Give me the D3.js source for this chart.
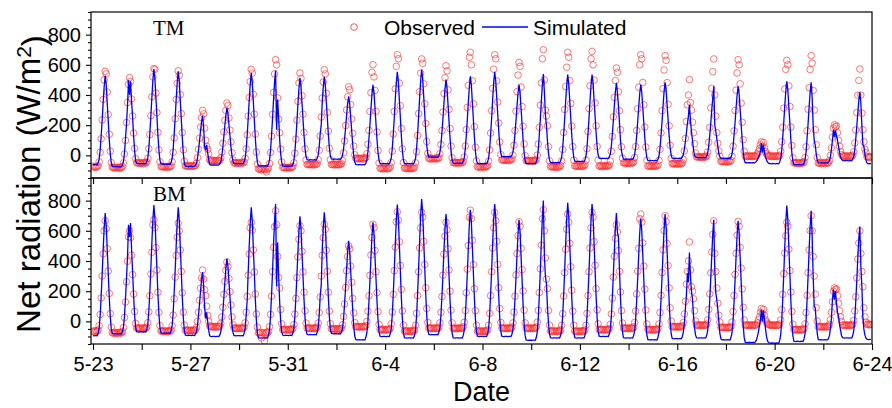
<!DOCTYPE html>
<html>
<head>
<meta charset="utf-8">
<script src="https://cdn.jsdelivr.net/npm/d3@7"></script>
<style>
  body { margin: 0; background: #fff; }
  svg { display: block; }
  text { font-family: Arial, "Liberation Sans", sans-serif; fill: #000; }
</style>
</head>
<body>
<svg id="chart" width="892" height="408"></svg>
<script>
const startDate = new Date(2014, 4, 23);
const endDate = new Date(2014, 5, 24);
const yTicks = [0, 200, 400, 600, 800];
const legendItems = ["Observed", "Simulated"];

// hourly values (W/m2), one row per day from 5-23, hours 0..23
const tmObserved = [
  [-72,-78,-75,-80,-74,-69,-43,20,110,235,370,500,557,540,420,270,140,28,-48,-78,-82,-79,-84,-80],
  [-82,-78,-85,-79,-83,-74,-50,9,99,218,350,470,515,490,374,261,148,46,-22,-50,-47,-53,-49,-52],
  [-52,-48,-55,-47,-50,-44,-19,44,138,263,388,520,575,570,413,283,153,36,-43,-75,-72,-78,-74,-77],
  [-74,-78,-72,-77,-75,-69,-43,20,116,243,370,477,560,530,403,277,151,37,-39,-70,-68,-73,-71,-69],
  [-68,-73,-70,-72,-69,-66,-52,-15,40,114,188,250,298,275,180,100,60,40,10,-30,-35,-38,-33,-36],
  [-36,-33,-38,-34,-35,-31,-16,22,80,156,232,297,347,330,248,168,89,17,-30,-50,-48,-53,-49,-51],
  [-52,-48,-55,-47,-50,-44,-19,43,136,260,384,489,570,545,405,273,141,22,-57,-90,-92,-86,-95,-90],
  [-88,-95,-90,-110,-92,-83,-54,19,127,272,417,540,634,600,380,240,150,41,-44,-80,-78,-84,-79,-82],
  [-82,-78,-84,-79,-80,-74,-49,14,108,233,358,480,546,510,395,273,152,43,-30,-60,-58,-63,-59,-61],
  [-62,-58,-64,-57,-60,-54,-29,34,128,254,380,486,568,540,411,285,160,47,-29,-60,-62,-57,-63,-59],
  [-62,-58,-63,-57,-61,-55,-34,17,95,198,301,388,455,435,336,241,146,61,4,-20,-18,-24,-19,-22],
  [-22,-18,-25,-17,-21,-14,11,73,166,291,415,550,601,520,430,292,155,32,-51,-85,-88,-82,-90,-86],
  [-87,-83,-90,-84,-86,-77,-47,28,141,291,441,590,667,640,479,329,178,43,-47,-85,-82,-88,-84,-87],
  [-87,-83,-90,-84,-86,-78,-49,24,132,277,422,545,639,610,474,342,211,92,13,-20,-18,-25,-19,-22],
  [-22,-18,-25,-17,-21,-14,11,72,164,287,410,514,594,560,434,305,177,61,-16,-48,-45,-52,-47,-50],
  [-50,-46,-52,-45,-49,-41,-11,62,171,318,464,650,683,600,494,342,190,54,-37,-75,-78,-72,-80,-76],
  [-77,-73,-80,-72,-76,-68,-38,36,148,296,444,571,667,640,493,353,214,88,5,-30,-28,-34,-29,-32],
  [-32,-28,-35,-27,-31,-24,2,67,164,293,422,532,616,590,453,323,193,76,-2,-35,-33,-38,-34,-36],
  [-37,-33,-38,-34,-35,-28,2,75,186,333,480,640,700,500,300,260,196,57,-36,-75,-72,-78,-74,-77],
  [-77,-73,-80,-72,-76,-67,-37,39,152,304,456,584,683,650,495,344,194,58,-32,-70,-68,-73,-69,-72],
  [-72,-68,-74,-67,-71,-62,-32,44,158,310,461,640,689,600,499,347,196,59,-32,-70,-73,-67,-75,-71],
  [-72,-68,-74,-67,-71,-64,-38,27,125,255,384,495,579,550,422,296,170,57,-19,-50,-48,-55,-47,-52],
  [-52,-48,-55,-47,-50,-43,-14,58,165,309,452,600,667,640,483,335,188,55,-33,-70,-72,-67,-74,-70],
  [-72,-68,-74,-67,-71,-63,-33,40,149,296,442,566,661,630,482,339,196,67,-19,-55,-53,-58,-52,-56],
  [-57,-53,-58,-52,-56,-49,-27,29,112,224,335,400,502,350,300,220,150,77,16,-10,-8,-13,-9,-12],
  [-12,-8,-14,-7,-11,-4,22,87,185,315,444,555,639,400,260,150,80,30,-6,-40,-38,-43,-39,-41],
  [-42,-38,-44,-37,-41,-33,-6,61,162,297,432,546,634,600,474,346,219,104,27,-5,-3,-8,-4,-6],
  [-7,-3,-8,-4,-6,-5,0,10,25,45,70,90,60,85,50,25,10,0,-5,-5,-3,-8,-4,-6],
  [-7,-3,-8,-4,-6,1,27,90,186,313,440,570,630,600,460,324,188,66,-16,-50,-48,-53,-47,-52],
  [-52,-48,-54,-47,-51,-43,-14,57,163,306,448,569,661,611,430,300,170,71,-14,-50,-52,-47,-54,-50],
  [-52,-48,-54,-47,-51,-48,-35,0,50,120,180,203,190,195,150,100,60,25,5,-5,-3,-8,-4,-6],
  [-7,-3,-8,-4,-6,1,24,82,168,284,399,497,572,400,280,170,90,40,19,-10,-8,-13,-9,-12]
];

const tmSimulated = [
  [-60,-63,-61,-62,-64,-50,-27,32,127,233,351,457,528,468,347,227,106,9,-51,-72,-74,-76,-75,-75],
  [-74,-76,-75,-77,-75,-64,-41,17,108,211,330,497,400,490,360,250,130,30,-35,-52,-55,-54,-56,-55],
  [-55,-56,-54,-55,-56,-42,-17,45,146,259,384,497,572,509,383,257,131,30,-33,-56,-58,-57,-59,-58],
  [-58,-59,-57,-58,-60,-46,-21,40,139,250,373,483,557,494,368,242,116,15,-48,-70,-73,-72,-74,-73],
  [-73,-72,-74,-73,-72,-66,-53,-19,35,95,162,223,263,190,60,40,70,20,-30,-60,-64,-63,-65,-64],
  [-64,-63,-65,-64,-63,-56,-41,-4,57,125,201,269,314,277,203,130,56,-3,-40,-54,-55,-56,-54,-55],
  [-55,-56,-54,-55,-56,-43,-19,41,137,246,366,474,546,484,361,238,115,16,-45,-68,-70,-71,-69,-70],
  [-70,-71,-69,-70,-72,-57,-32,31,133,247,373,487,563,170,370,250,104,10,-45,-70,-72,-73,-71,-72],
  [-72,-71,-73,-72,-71,-60,-37,22,115,221,338,443,513,459,350,242,133,46,-8,-28,-30,-31,-29,-30],
  [-30,-31,-29,-30,-31,-19,3,58,146,200,355,454,520,466,357,248,139,51,-3,-24,-25,-26,-24,-25],
  [-25,-26,-24,-25,-26,-17,0,42,108,183,266,341,391,346,255,165,74,1,-44,-60,-62,-63,-61,-62],
  [-62,-63,-61,-62,-63,-51,-30,23,108,203,309,404,468,416,311,207,102,18,-34,-53,-55,-56,-54,-55],
  [-55,-56,-54,-55,-56,-43,-19,42,140,249,371,480,553,492,371,249,127,30,-31,-54,-55,-56,-54,-55],
  [-55,-56,-54,-55,-56,-43,-18,45,144,257,381,493,568,510,394,279,163,70,12,-10,-11,-12,-10,-11],
  [-11,-12,-10,-11,-12,-1,20,71,153,246,348,440,502,447,336,225,114,26,-30,-50,-52,-53,-51,-52],
  [-52,-53,-51,-52,-53,-40,-17,40,132,236,351,455,524,466,350,235,119,26,-32,-54,-55,-56,-54,-55],
  [-55,-56,-54,-55,-56,-43,-19,42,140,249,371,480,553,497,385,273,160,71,14,-7,-8,-9,-7,-8],
  [-8,-9,-7,-8,-9,2,21,68,144,230,325,411,468,416,311,207,102,18,-34,-53,-55,-56,-54,-55],
  [-55,-56,-54,-55,-56,-43,-19,40,135,242,361,468,539,420,270,200,100,15,-30,-47,-48,-49,-47,-48],
  [-48,-49,-47,-48,-49,-36,-13,45,139,244,360,465,535,478,363,248,133,41,-17,-39,-40,-41,-39,-40],
  [-40,-41,-39,-40,-41,-29,-6,52,144,248,363,466,535,480,369,258,147,58,2,-19,-20,-21,-19,-20],
  [-20,-21,-19,-20,-21,-10,10,60,140,230,330,420,480,420,330,220,100,30,-5,-24,-25,-26,-24,-25],
  [-25,-26,-24,-25,-26,-15,5,54,133,222,320,409,468,418,317,217,116,35,-15,-34,-35,-36,-34,-35],
  [-35,-36,-34,-35,-36,-25,-4,48,131,225,328,422,484,434,333,232,131,51,0,-19,-20,-21,-19,-20],
  [-20,-21,-19,-20,-21,-10,5,40,90,150,210,260,336,230,160,100,40,0,-10,-14,-15,-16,-14,-15],
  [-15,-16,-14,-15,-16,-5,15,60,130,210,300,380,457,200,160,110,60,10,-10,-19,-20,-21,-19,-20],
  [-20,-21,-19,-20,-21,-10,9,56,133,219,314,400,457,406,305,204,103,22,-29,-48,-49,-50,-48,-49],
  [-49,-50,-48,-49,-50,-45,-40,-30,-15,0,30,82,20,70,20,-10,-30,-45,-52,-54,-55,-56,-54,-55],
  [-55,-56,-54,-55,-56,-44,-22,32,119,218,327,425,490,435,324,214,104,15,-40,-60,-62,-63,-61,-62],
  [-62,-63,-61,-62,-63,-51,-29,25,113,211,320,418,484,380,200,100,70,10,-30,-48,-50,-51,-49,-50],
  [-50,-51,-49,-50,-51,-45,-35,-10,40,100,170,120,165,130,100,60,20,-10,-25,-34,-35,-36,-34,-35],
  [-35,-36,-34,-35,-36,-26,-8,37,110,191,281,363,417,350,200,70,60,10,-30,-50,-55,-56,-54,-55]
];

const bmObserved = [
  [-67,-63,-70,-62,-66,-58,-28,45,155,301,447,600,667,615,482,333,185,51,-38,-75,-78,-72,-80,-76],
  [-77,-73,-80,-72,-76,-68,-41,26,128,263,398,560,600,555,439,310,181,65,-13,-45,-43,-48,-44,-47],
  [-47,-43,-48,-44,-46,-38,-9,63,170,314,458,640,673,621,489,341,193,60,-28,-65,-63,-68,-62,-66],
  [-67,-63,-68,-62,-66,-58,-29,42,150,293,436,557,650,600,473,331,189,61,-25,-60,-58,-63,-57,-61],
  [-62,-58,-63,-57,-61,-56,-40,0,60,140,220,288,340,280,210,170,100,40,0,-30,-33,-38,-34,-36],
  [-37,-33,-38,-34,-36,-31,-14,29,93,179,265,337,393,362,284,196,108,29,-23,-45,-43,-48,-44,-47],
  [-47,-43,-48,-44,-46,-38,-10,60,165,306,446,620,656,605,473,327,181,49,-38,-75,-78,-72,-110,-76],
  [-77,-130,-80,-72,-76,-67,-35,46,167,329,491,628,733,640,430,290,221,79,-16,-55,-53,-58,-52,-56],
  [-57,-53,-58,-52,-56,-48,-21,48,152,290,427,544,634,600,464,328,193,70,-11,-45,-43,-48,-44,-47],
  [-47,-43,-48,-44,-46,-38,-11,58,162,300,437,554,644,610,471,332,193,68,-15,-50,-48,-53,-49,-51],
  [-52,-48,-53,-47,-51,-45,-23,33,115,225,335,429,500,480,366,259,152,56,-8,-35,-33,-38,-34,-36],
  [-37,-33,-38,-34,-36,-28,-1,67,169,305,440,556,644,620,469,329,190,64,-20,-55,-53,-58,-52,-56],
  [-57,-53,-58,-52,-56,-47,-16,62,179,336,492,660,726,671,528,370,212,69,-25,-65,-63,-68,-62,-66],
  [-67,-63,-68,-62,-66,-57,-26,53,171,329,486,620,722,690,530,377,223,85,-7,-45,-43,-48,-44,-47],
  [-47,-43,-48,-44,-46,-38,-10,60,165,306,446,565,656,607,481,341,200,74,-10,-45,-48,-43,-49,-46],
  [-47,-43,-48,-44,-46,-37,-6,72,190,346,502,690,737,681,537,376,216,71,-25,-65,-63,-68,-62,-66],
  [-67,-63,-68,-62,-66,-57,-26,53,171,329,486,620,722,668,530,377,223,85,-7,-45,-43,-48,-44,-47],
  [-47,-43,-48,-44,-46,-38,-10,61,167,308,449,568,660,630,484,343,201,75,-10,-45,-43,-48,-44,-47],
  [-47,-43,-48,-44,-46,-37,-6,73,191,348,505,680,740,600,420,280,217,72,-25,-65,-63,-68,-62,-66],
  [-67,-63,-68,-62,-66,-57,-26,51,168,323,478,610,711,657,517,362,206,67,-26,-65,-68,-63,-69,-66],
  [-67,-63,-68,-62,-66,-57,-26,53,171,329,486,620,722,690,528,372,217,77,-16,-55,-53,-58,-52,-56],
  [-57,-53,-58,-52,-56,-48,-20,49,154,293,432,550,640,592,469,332,195,71,-11,-45,-43,-48,-44,-47],
  [-47,-43,-48,-44,-46,-37,-7,68,182,333,484,680,711,657,520,366,213,75,-17,-55,-53,-58,-52,-56],
  [-57,-53,-58,-52,-56,-47,-17,58,172,323,474,602,700,660,516,369,222,90,2,-35,-33,-38,-34,-36],
  [-37,-33,-38,-34,-36,-29,-7,49,133,246,330,400,526,340,230,200,150,70,3,-25,-23,-28,-24,-26],
  [-27,-23,-28,-24,-26,-18,10,79,182,321,459,576,666,450,330,220,120,40,-5,-40,-38,-43,-39,-41],
  [-42,-38,-43,-39,-41,-33,-5,65,171,311,451,571,662,630,490,353,215,92,9,-25,-23,-28,-24,-26],
  [-27,-23,-28,-24,-26,-25,-20,-10,10,30,60,85,50,80,40,10,-5,-15,-20,-25,-23,-28,-24,-26],
  [-27,-23,-28,-24,-26,-18,9,77,179,316,452,567,656,630,478,336,194,66,-19,-55,-53,-58,-52,-56],
  [-57,-53,-58,-52,-56,-47,-17,58,172,323,474,602,700,600,430,300,180,90,2,-35,-33,-38,-34,-36],
  [-37,-33,-38,-34,-36,-33,-20,10,60,130,200,222,210,215,170,120,70,30,0,-25,-23,-28,-24,-26],
  [-27,-23,-28,-24,-26,-19,6,69,163,288,413,519,600,450,330,230,90,30,-5,-20,-18,-23,-19,-21]
];

const bmSimulated = [
  [-95,-96,-94,-95,-96,-79,-46,35,165,312,474,620,718,638,478,318,158,30,-50,-80,-82,-83,-81,-82],
  [-82,-83,-81,-82,-83,-67,-38,35,153,285,430,640,560,651,480,330,170,40,-40,-68,-70,-71,-69,-70],
  [-70,-71,-69,-70,-71,-53,-20,65,199,351,519,670,771,686,516,347,177,41,-44,-76,-78,-79,-77,-78],
  [-78,-79,-77,-78,-79,-61,-28,55,189,339,506,656,756,671,501,332,162,26,-59,-91,-93,-94,-92,-93],
  [-93,-94,-92,-93,-94,-85,-68,-26,41,117,201,277,327,240,100,20,60,0,-60,-95,-100,-101,-99,-100],
  [-100,-101,-99,-100,-101,-90,-69,-17,65,158,261,354,416,365,263,161,58,-23,-75,-94,-95,-96,-94,-95],
  [-95,-96,-94,-95,-96,-78,-44,41,140,331,501,654,756,669,496,323,150,11,-75,-108,-110,-111,-109,-110],
  [-110,-111,-109,-110,-111,-92,-57,32,174,334,512,671,778,233,523,300,130,0,-70,-91,-93,-94,-92,-93],
  [-93,-94,-92,-93,-94,-77,-46,33,159,302,459,601,696,618,461,304,147,22,-57,-86,-88,-89,-87,-88],
  [-88,-89,-87,-88,-89,-72,-39,42,171,240,479,625,722,642,481,320,159,31,-50,-80,-82,-83,-81,-82],
  [-82,-83,-81,-82,-83,-70,-45,16,115,226,349,459,533,468,337,206,75,-30,-96,-120,-122,-123,-121,-122],
  [-122,-123,-121,-122,-123,-106,-75,2,127,267,423,563,656,580,429,278,127,6,-70,-98,-100,-101,-99,-100],
  [-100,-101,-99,-100,-101,-83,-48,40,180,337,512,669,774,686,509,332,155,14,-75,-108,-110,-111,-109,-110],
  [-110,-111,-109,-110,-111,-92,-55,37,185,351,535,700,811,721,541,362,182,38,-52,-86,-88,-89,-87,-88],
  [-88,-89,-87,-88,-89,-72,-40,40,168,312,471,615,711,629,465,301,136,5,-77,-108,-110,-111,-109,-110],
  [-110,-111,-109,-110,-111,-93,-59,26,162,315,485,638,740,656,488,320,152,18,-66,-98,-100,-101,-99,-100],
  [-100,-101,-99,-100,-101,-82,-47,40,181,339,515,673,778,690,515,339,163,23,-65,-98,-100,-101,-99,-100],
  [-100,-101,-99,-100,-101,-85,-54,24,147,287,441,580,673,593,434,274,114,-13,-93,-123,-125,-126,-124,-125],
  [-125,-126,-124,-125,-126,-107,-70,23,171,338,523,689,800,433,300,250,100,-10,-80,-108,-110,-111,-109,-110],
  [-110,-111,-109,-110,-111,-92,-56,33,176,338,517,678,785,696,517,338,159,15,-74,-108,-110,-111,-109,-110],
  [-110,-111,-109,-110,-111,-92,-57,32,174,334,512,671,778,690,515,339,163,23,-65,-98,-100,-101,-99,-100],
  [-100,-101,-99,-100,-101,-84,-51,31,162,309,473,620,718,590,560,350,160,20,-70,-108,-110,-111,-109,-110],
  [-110,-111,-109,-110,-111,-94,-62,17,143,286,444,587,682,602,441,280,119,-9,-90,-120,-122,-123,-121,-122],
  [-122,-123,-121,-122,-123,-105,-72,11,145,295,461,611,711,628,463,298,133,1,-82,-113,-115,-116,-114,-115],
  [-115,-116,-114,-115,-116,-100,-70,-10,80,170,320,260,456,300,200,150,40,-40,-90,-108,-110,-111,-109,-110],
  [-110,-111,-109,-110,-111,-94,-62,15,140,280,430,580,673,344,189,144,78,0,-80,-115,-122,-123,-121,-122],
  [-122,-123,-121,-122,-123,-106,-75,4,130,272,430,572,667,586,425,264,102,-27,-108,-138,-140,-141,-139,-140],
  [-140,-141,-139,-140,-141,-135,-125,-100,-70,-30,10,78,0,72,10,-50,-100,-130,-140,-143,-144,-145,-143,-144],
  [-144,-145,-143,-144,-145,-126,-89,2,148,312,494,658,767,677,497,317,137,-7,-97,-131,-133,-134,-132,-133],
  [-133,-134,-132,-133,-134,-116,-81,6,144,300,473,629,733,560,300,100,90,0,-80,-120,-122,-123,-121,-122],
  [-122,-123,-121,-122,-123,-115,-95,-50,20,144,211,144,200,122,60,33,-20,-60,-95,-108,-110,-111,-109,-110],
  [-110,-111,-109,-110,-111,-94,-63,13,135,270,420,550,629,367,233,33,-53,-90,-110,-118,-120,-121,-119,-120]
];

const panels = [
  { name: "TM", observed: tmObserved, simulated: tmSimulated, top: 12, bottom: 178, labelled: false },
  { name: "BM", observed: bmObserved, simulated: bmSimulated, top: 178, bottom: 344, labelled: true }
];

const hourly = rows => rows.flatMap((row, d) =>
  row.map((v, h) => ({ t: d3.timeHour.offset(startDate, d * 24 + h), v })));

const svg = d3.select("#chart");
const left = 91, right = 872;

const x = d3.scaleTime()
  .domain([d3.timeHour.offset(startDate, -2), endDate])
  .range([left, right]);

const xTickDates = d3.timeDay.range(startDate, d3.timeDay.offset(endDate, 1), 2);
const fmt = d3.timeFormat("%-m-%-d");
const minorY = d3.range(-150, 951, 50).filter(v => !yTicks.includes(v));

panels.forEach((p, i) => {
  const y = d3.scaleLinear().domain([-150, 950]).range([p.bottom, p.top]);
  const g = svg.append("g");

  g.append("clipPath").attr("id", "clip" + i)
    .append("rect")
    .attr("x", left).attr("y", p.top)
    .attr("width", right - left).attr("height", p.bottom - p.top);

  const plot = g.append("g").attr("clip-path", `url(#clip${i})`);

  plot.selectAll("circle")
    .data(hourly(p.observed))
    .join("circle")
    .attr("cx", d => x(d.t))
    .attr("cy", d => y(d.v))
    .attr("r", 3.3)
    .attr("fill", "none")
    .attr("stroke", "#ff2a2a")
    .attr("stroke-width", 0.8)
    .attr("opacity", 0.8);

  plot.append("path")
    .datum(hourly(p.simulated))
    .attr("fill", "none")
    .attr("stroke", "#0000ff")
    .attr("stroke-width", 1.3)
    .attr("d", d3.line().x(d => x(d.t)).y(d => y(d.v)));

  // y axis, major and minor ticks
  const yMajor = g.append("g")
    .attr("transform", `translate(${left},0)`)
    .call(d3.axisLeft(y).tickValues(yTicks).tickSize(5).tickPadding(5));
  yMajor.selectAll("text").style("font-size", "20px");

  g.append("g")
    .attr("transform", `translate(${left},0)`)
    .call(d3.axisLeft(y).tickValues(minorY).tickSize(3).tickFormat(""));

  // x axis at the bottom of each panel
  const xa = g.append("g")
    .attr("transform", `translate(0,${p.bottom})`)
    .call(d3.axisBottom(x).tickValues(xTickDates).tickSize(6).tickPadding(7)
      .tickFormat((d, k) => p.labelled && k % 2 === 0 ? fmt(d) : ""));
  xa.selectAll("text").style("font-size", "20px");

  g.selectAll(".domain").remove();
  g.selectAll(".tick line").attr("stroke", "#000").attr("stroke-width", 1.1);

  g.append("rect")
    .attr("x", left).attr("y", p.top)
    .attr("width", right - left).attr("height", p.bottom - p.top)
    .attr("fill", "none").attr("stroke", "#000").attr("stroke-width", 1.2);

  g.append("text")
    .attr("x", 153).attr("y", p.top + 23)
    .style("font-family", "'Times New Roman', 'Liberation Serif', serif")
    .style("font-size", "21px")
    .text(p.name);
});

// legend
const legend = svg.append("g").style("font-size", "21px");
legend.append("circle")
  .attr("cx", 354).attr("cy", 27).attr("r", 3.3)
  .attr("fill", "none").attr("stroke", "#ff2a2a").attr("stroke-width", 0.8);
legend.append("text").attr("x", 384).attr("y", 34.5).text(legendItems[0]);
legend.append("line")
  .attr("x1", 482).attr("x2", 528).attr("y1", 27).attr("y2", 27)
  .attr("stroke", "#0000ff").attr("stroke-width", 1.3);
legend.append("text").attr("x", 533).attr("y", 34.5).text(legendItems[1]);

// axis titles
svg.append("text")
  .attr("x", (left + right) / 2).attr("y", 401)
  .attr("text-anchor", "middle")
  .style("font-size", "27px")
  .text("Date");

const yTitle = svg.append("text")
  .attr("transform", "translate(40,184) rotate(-90)")
  .attr("text-anchor", "middle")
  .style("font-size", "33px");
yTitle.append("tspan").text("Net radiation (W/m");
yTitle.append("tspan").attr("dy", "-0.45em").style("font-size", "21px").text("2");
yTitle.append("tspan").attr("dy", "0.45em").text(")");
</script>
</body>
</html>
